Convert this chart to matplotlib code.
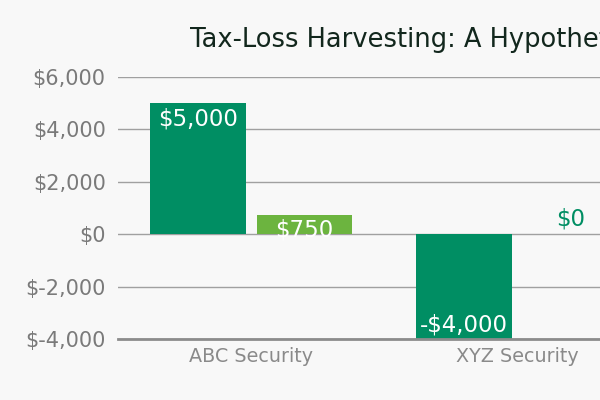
import numpy as np
import matplotlib
matplotlib.use("Agg")
import matplotlib.pyplot as plt
from matplotlib.ticker import FuncFormatter

# data
categories = ["ABC Security", "XYZ Security"]
gain_loss = [5000, -4000]
tax = [750, 0]
yticks = [-4000, -2000, 0, 2000, 4000, 6000]

dark_green = "#008e63"
light_green = "#6cb43f"
bg = "#f8f8f8"

plt.rcParams["font.family"] = ["DejaVu Sans"]

fig = plt.figure(figsize=(6, 4), dpi=100, facecolor=bg)
# the chart is cropped on the right, so the axes run past the figure edge
ax = fig.add_axes([0.197, 0.1525, 0.887, 0.655], facecolor=bg)

x = np.arange(len(categories))
w = 0.36
off = 0.2
b1 = ax.bar(x - off, gain_loss, w, color=dark_green, zorder=3)
b2 = ax.bar(x + off, tax, w, color=light_green, zorder=3)

ax.set_xlim(-0.5, 1.5)
ax.set_ylim(-4000, 6000)
ax.set_yticks(yticks)
ax.yaxis.set_major_formatter(FuncFormatter(lambda v, p: "$" + f"{v:,.0f}"))
ax.set_xticks(x)
ax.set_xticklabels(categories)
ax.tick_params(axis="y", length=0, pad=9, labelsize=15, labelcolor="#7a7a7a")
ax.tick_params(axis="x", length=0, pad=5.5, labelsize=13.75, labelcolor="#8a8a8a")

ax.grid(axis="y", color="#a0a0a0", linewidth=1, zorder=0)
ax.set_axisbelow(True)
for s in ["top", "right", "left"]:
    ax.spines[s].set_visible(False)
ax.spines["bottom"].set_color("#8c8c8c")
ax.spines["bottom"].set_linewidth(2)
ax.spines["bottom"].set_zorder(4)


def label_bars(bars, vals):
    for r, v in zip(bars, vals):
        cx = r.get_x() + r.get_width() / 2
        txt = ("-$" if v < 0 else "$") + f"{abs(v):,.0f}"
        if v > 0:
            ax.annotate(txt, (cx, v), xytext=(0, -3), textcoords="offset points",
                        ha="center", va="top", color="white", fontsize=16.5, zorder=5)
        elif v < 0:
            ax.annotate(txt, (cx, v), xytext=(0, 2), textcoords="offset points",
                        ha="center", va="bottom", color="white", fontsize=16.5, zorder=5)
        else:
            ax.annotate(txt, (cx, v), xytext=(0, 3), textcoords="offset points",
                        ha="center", va="bottom", color=dark_green, fontsize=16.5, zorder=5)


label_bars(b1, gain_loss)
label_bars(b2, tax)

fig.text(190 / 600, 1 - 40 / 400, "Tax-Loss Harvesting: A Hypothetical Example",
         ha="left", va="center", fontsize=18.5, color="#12271d")

fig.savefig("out.png", dpi=100, facecolor=bg)
